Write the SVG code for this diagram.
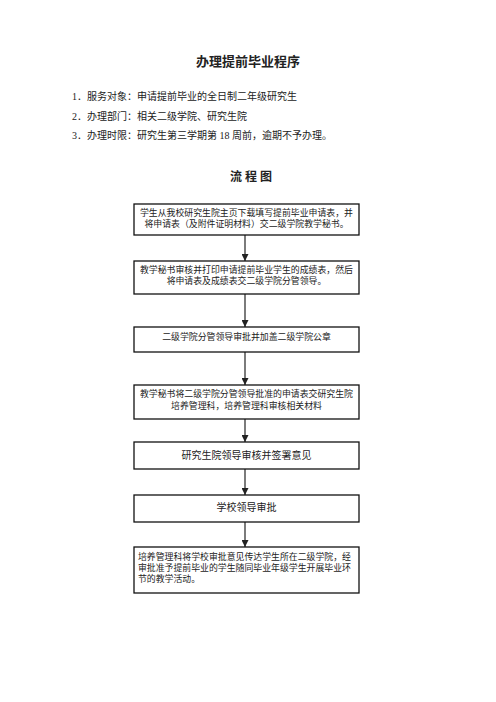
<svg xmlns="http://www.w3.org/2000/svg" width="496" height="702" viewBox="0 0 496 702">
<style>
.t{font-family:"Liberation Serif","Noto Sans CJK SC",serif;fill:#222;}
.box{fill:#fff;stroke:#111;stroke-width:1.3;}
.s{font-size:8.9px;}
.m{font-size:10px;}
.c{text-anchor:middle;}
.con{stroke:#444;stroke-width:1.4;fill:none;marker-end:url(#ah);}
</style>
<defs>
<marker id="ah" viewBox="0 0 8 8" refX="8" refY="4" markerWidth="5" markerHeight="5" orient="auto" markerUnits="strokeWidth">
<path d="M0,0 L8,4 L0,8 z" fill="#222"/>
</marker>
</defs>
<rect width="496" height="702" fill="#fff"/>
<g id="header">
<text class="t c" x="248" y="66" font-size="13" font-weight="bold" fill="#111">办理提前毕业程序</text>
<text class="t" x="72" y="100" font-size="10">1．服务对象：申请提前毕业的全日制二年级研究生</text>
<text class="t" x="72" y="120" font-size="10">2．办理部门：相关二级学院、研究生院</text>
<text class="t" x="72" y="139" font-size="10">3．办理时限：研究生第三学期第 18 周前，逾期不予办理。</text>
<text class="t c" x="251" y="181" font-size="12" font-weight="bold" fill="#111">流 程 图</text>
</g>
<g id="connectors">
<line class="con" x1="245" y1="235" x2="245" y2="261"/>
<line class="con" x1="245" y1="294" x2="245" y2="327"/>
<line class="con" x1="245" y1="352" x2="245" y2="385"/>
<line class="con" x1="245" y1="419" x2="245" y2="442"/>
<line class="con" x1="245" y1="469" x2="245" y2="495"/>
<line class="con" x1="245" y1="522" x2="245" y2="547"/>
</g>
<g id="n1">
<rect class="box" x="134" y="204" width="225" height="31"/>
<text class="t s c" x="246.5" y="216">学生从我校研究生院主页下载填写提前毕业申请表，并</text>
<text class="t s c" x="246.5" y="227">将申请表（及附件证明材料）交二级学院教学秘书。</text>
</g>
<g id="n2">
<rect class="box" x="134" y="261" width="225" height="33"/>
<text class="t s c" x="246.5" y="273">教学秘书审核并打印申请提前毕业学生的成绩表，然后</text>
<text class="t s c" x="246.5" y="284">将申请表及成绩表交二级学院分管领导。</text>
</g>
<g id="n3">
<rect class="box" x="134" y="327" width="225" height="25"/>
<text class="t s c" x="246.5" y="340">二级学院分管领导审批并加盖二级学院公章</text>
</g>
<g id="n4">
<rect class="box" x="134" y="385" width="225" height="34"/>
<text class="t s c" x="246.5" y="397">教学秘书将二级学院分管领导批准的申请表交研究生院</text>
<text class="t s c" x="246.5" y="409">培养管理科，培养管理科审核相关材料</text>
</g>
<g id="n5">
<rect class="box" x="134" y="442" width="225" height="27"/>
<text class="t m c" x="246.5" y="459">研究生院领导审核并签署意见</text>
</g>
<g id="n6">
<rect class="box" x="134" y="495" width="225" height="27"/>
<text class="t m c" x="246.5" y="511">学校领导审批</text>
</g>
<g id="n7">
<rect class="box" x="134" y="547" width="225" height="46"/>
<text class="t s" x="138" y="560">培养管理科将学校审批意见传达学生所在二级学院，经</text>
<text class="t s" x="138" y="571">审批准予提前毕业的学生随同毕业年级学生开展毕业环</text>
<text class="t s" x="138" y="582">节的教学活动。</text>
</g>
</svg>
